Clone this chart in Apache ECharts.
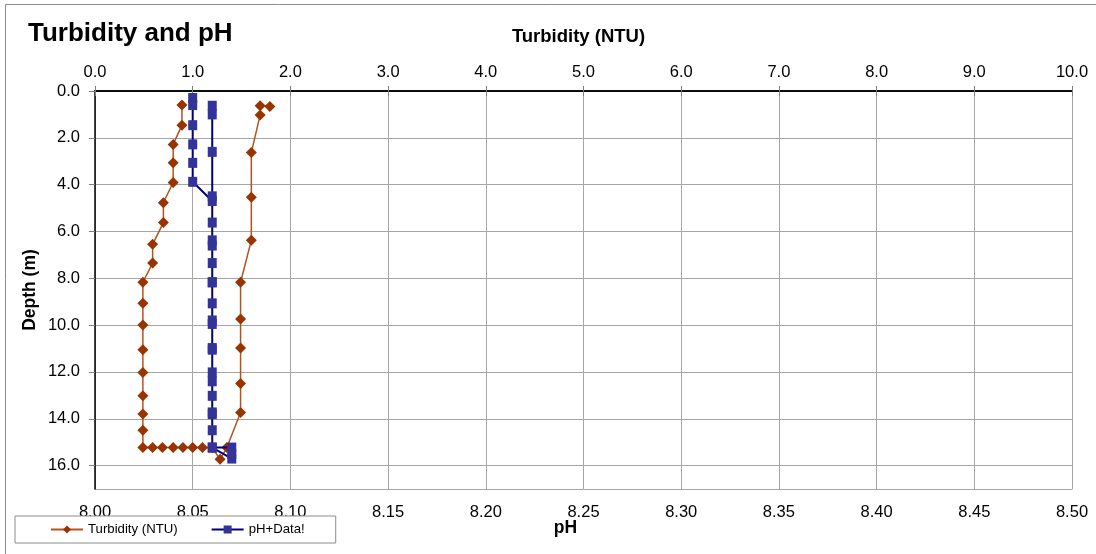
<!DOCTYPE html>
<html>
<head>
<meta charset="utf-8">
<script src="https://cdn.jsdelivr.net/npm/echarts@6/dist/echarts.min.js"></script>
<style>
  html, body { margin: 0; padding: 0; background: #fff; }
  #chart { width: 1096px; height: 554px; }
</style>
</head>
<body>
<div id="chart"></div>
<script>
// Turbidity profile (NTU) and matching depths (m)
var turbidity = [0.89,0.89,0.80,0.80,0.80,0.70,0.70,0.59,0.59,0.49,0.49,0.49,0.49,0.49,0.49,0.49,0.49,0.49,
                 0.59,0.69,0.80,0.90,1.00,1.10,1.20,1.28,1.35,
                 1.49,1.49,1.49,1.49,1.49,1.60,1.60,1.60,1.69,1.69,1.79];
var turbidityDepth = [0.60,1.46,2.28,3.07,3.91,4.77,5.62,6.55,7.35,8.17,9.07,9.99,11.05,12.02,13.02,13.80,14.49,15.23,
                      15.23,15.23,15.23,15.23,15.23,15.23,15.23,15.73,15.23,
                      13.73,12.49,10.98,9.74,8.17,6.38,4.54,2.63,1.03,0.63,0.66];
// pH profile and matching depths (m)
var ph = [8.05,8.05,8.05,8.05,8.05,8.05,
          8.06,8.06,8.06,8.06,8.06,8.06,8.06,8.06,8.06,8.06,8.06,8.06,8.06,
          8.07,8.07,8.07,
          8.06,8.06,8.06,8.06,8.06,8.06,8.06,8.06,8.06,8.06,8.06];
var phDepth = [0.30,0.60,1.46,2.28,3.07,3.88,
               4.70,5.62,6.60,7.35,8.17,9.07,9.95,11.05,12.02,13.02,13.80,14.49,15.23,
               15.23,15.50,15.70,
               15.23,13.73,12.40,10.98,9.80,8.17,6.38,4.50,2.60,1.00,0.63];
var depthTicks = { min: 0, max: 17, interval: 2 };
var turbTicks = { min: 0, max: 10, interval: 1 };
var phTicks = { min: 8.0, max: 8.5, interval: 0.05 };

function pairs(xs, ys) { return xs.map(function (v, i) { return [v, ys[i]]; }); }

var FONT = 'Liberation Sans, Arial, sans-serif';
var chart = echarts.init(document.getElementById('chart'), null, { renderer: 'canvas' });
chart.setOption({
  animation: false,
  backgroundColor: '#fff',
  textStyle: { fontFamily: FONT },
  title: {
    text: 'Turbidity and pH',
    left: 28, top: 21, padding: 0,
    textStyle: { fontFamily: FONT, fontSize: 26, fontWeight: 'bold', color: '#000' }
  },
  graphic: [{
    type: 'rect', z: -10, silent: true,
    shape: { x: 5.5, y: 4.5, width: 1200, height: 700 },
    style: { fill: 'none', stroke: '#8c8c8c', lineWidth: 1 }
  }],
  legend: {
    left: 15, top: 516,
    padding: [7, 31, 7, 35],
    itemGap: 33, itemWidth: 32, itemHeight: 10,
    backgroundColor: '#fff', borderColor: '#8c8c8c', borderWidth: 1,
    textStyle: { fontFamily: FONT, fontSize: 13.2, color: '#000' },
    z: 10,
    data: ['Turbidity (NTU)', 'pH+Data!']
  },
  grid: { left: 95, right: 24, top: 91, bottom: 65, containLabel: false, show: false },
  xAxis: [{
    type: 'value', position: 'top',
    min: turbTicks.min, max: turbTicks.max, interval: turbTicks.interval,
    name: 'Turbidity (NTU)', nameLocation: 'middle', nameGap: 45, nameMoveOverlap: false,
    nameTextStyle: { fontFamily: FONT, fontSize: 18.5, fontWeight: 'bold', color: '#000', padding: [0, 10, 0, 0] },
    axisLine: { show: true, lineStyle: { color: '#000', width: 1.5 } },
    axisTick: { show: true, length: 5, lineStyle: { color: '#808080' } },
    axisLabel: { fontFamily: FONT, fontSize: 16.5, color: '#000', margin: 10,
      formatter: function (v) { return v.toFixed(1); } },
    splitLine: { show: true, lineStyle: { color: '#a6a6a6', width: 1 } }
  }, {
    type: 'value', position: 'bottom',
    min: phTicks.min, max: phTicks.max, interval: phTicks.interval,
    name: 'pH', nameLocation: 'middle', nameGap: 30, nameMoveOverlap: false,
    nameTextStyle: { fontFamily: FONT, fontSize: 17.5, fontWeight: 'bold', color: '#000', padding: [0, 36, 0, 0] },
    axisLine: { show: true, lineStyle: { color: '#000', width: 1.5 } },
    axisTick: { show: true, length: 5, lineStyle: { color: '#808080' } },
    axisLabel: { fontFamily: FONT, fontSize: 16.5, color: '#000', margin: 15,
      formatter: function (v) { return v.toFixed(2); } },
    splitLine: { show: false }
  }],
  yAxis: [{
    type: 'value', inverse: true,
    min: depthTicks.min, max: depthTicks.max, interval: depthTicks.interval,
    name: 'Depth (m)', nameLocation: 'middle', nameGap: 56, nameRotate: 90, nameMoveOverlap: false,
    nameTextStyle: { fontFamily: FONT, fontSize: 17.5, fontWeight: 'bold', color: '#000' },
    axisLine: { show: true, lineStyle: { color: '#000', width: 1.5 } },
    axisTick: { show: true, length: 6, lineStyle: { color: '#808080' } },
    axisLabel: { fontFamily: FONT, fontSize: 16.5, color: '#000', margin: 15, showMaxLabel: false,
      formatter: function (v) { return v.toFixed(1); } },
    splitLine: { show: true, lineStyle: { color: '#a6a6a6', width: 1 } }
  }, {
    type: 'value', inverse: true, position: 'right',
    min: depthTicks.min, max: depthTicks.max, interval: depthTicks.interval,
    axisLine: { show: true, lineStyle: { color: '#a6a6a6', width: 1 } },
    axisTick: { show: false }, axisLabel: { show: false }, splitLine: { show: false }
  }],
  series: [{
    name: 'Turbidity (NTU)', type: 'line', xAxisIndex: 0, yAxisIndex: 0,
    data: pairs(turbidity, turbidityDepth),
    symbol: 'diamond', symbolSize: 11, showAllSymbol: true,
    lineStyle: { color: '#b5531f', width: 1.5 },
    itemStyle: { color: '#993300' },
    z: 2
  }, {
    name: 'pH+Data!', type: 'line', xAxisIndex: 1, yAxisIndex: 0,
    data: pairs(ph, phDepth),
    symbol: 'rect', symbolSize: [9, 10], showAllSymbol: true,
    lineStyle: { color: '#000080', width: 2 },
    itemStyle: { color: '#333399' },
    z: 3
  }]
});
</script>
</body>
</html>
